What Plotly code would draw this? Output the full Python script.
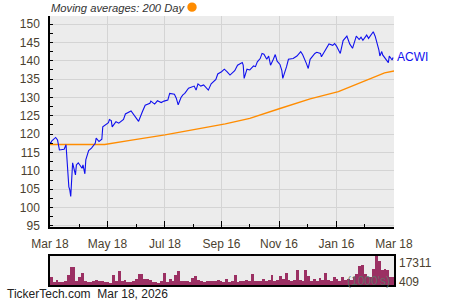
import plotly.graph_objects as go
import pandas as pd

price_dates = [
    "2025-03-18", "2025-03-19", "2025-03-20", "2025-03-24", "2025-03-26", "2025-03-28",
    "2025-04-02", "2025-04-04", "2025-04-07", "2025-04-08", "2025-04-09", "2025-04-11",
    "2025-04-14", "2025-04-15", "2025-04-17", "2025-04-21", "2025-04-22", "2025-04-24",
    "2025-04-25", "2025-04-28", "2025-05-01", "2025-05-05", "2025-05-06", "2025-05-09",
    "2025-05-12", "2025-05-13", "2025-05-19", "2025-05-20", "2025-05-22", "2025-05-23",
    "2025-05-27", "2025-05-30", "2025-06-04", "2025-06-06", "2025-06-12", "2025-06-16",
    "2025-06-20", "2025-06-24", "2025-06-27", "2025-07-02", "2025-07-03", "2025-07-07",
    "2025-07-10", "2025-07-14", "2025-07-17", "2025-07-21", "2025-07-23", "2025-07-28",
    "2025-07-30", "2025-08-01", "2025-08-04", "2025-08-06", "2025-08-08", "2025-08-12",
    "2025-08-15", "2025-08-18", "2025-08-20", "2025-08-22", "2025-08-25", "2025-08-28",
    "2025-09-02", "2025-09-05", "2025-09-10", "2025-09-12", "2025-09-16", "2025-09-19",
    "2025-09-22", "2025-09-25", "2025-09-30", "2025-10-03", "2025-10-08", "2025-10-09",
    "2025-10-10", "2025-10-13", "2025-10-16", "2025-10-20", "2025-10-22", "2025-10-24",
    "2025-10-27", "2025-10-29", "2025-10-31", "2025-11-03", "2025-11-05", "2025-11-06",
    "2025-11-07", "2025-11-10", "2025-11-12", "2025-11-14", "2025-11-17", "2025-11-19",
    "2025-11-20", "2025-11-24", "2025-11-26", "2025-12-01", "2025-12-05", "2025-12-09",
    "2025-12-11", "2025-12-15", "2025-12-17", "2025-12-19", "2025-12-24", "2025-12-26",
    "2025-12-30", "2025-12-31", "2026-01-05", "2026-01-08", "2026-01-12", "2026-01-14",
    "2026-01-16", "2026-01-20", "2026-01-22", "2026-01-23", "2026-01-27", "2026-01-29",
    "2026-01-30", "2026-02-02", "2026-02-04", "2026-02-06", "2026-02-09", "2026-02-11",
    "2026-02-13", "2026-02-17", "2026-02-19", "2026-02-23", "2026-02-24", "2026-02-26",
    "2026-02-27", "2026-03-02", "2026-03-03", "2026-03-05", "2026-03-06", "2026-03-09",
    "2026-03-12", "2026-03-13", "2026-03-16", "2026-03-17",
]
price_values = [
    117.7, 117.7, 118.2, 119.1, 118.4, 115.7,
    115.9, 117.1, 105.6, 104.8, 103.0, 112.2,
    108.9, 111.6, 112.2, 110.7, 111.6, 109.2,
    113.0, 115.5, 116.2, 117.5, 118.9, 118.0,
    118.6, 122.0, 123.1, 124.0, 123.7, 122.0,
    123.4, 123.0, 124.0, 125.5, 126.3, 124.8,
    123.5, 126.1, 127.9, 128.4, 129.0, 128.2,
    129.1, 128.6, 129.0, 129.3, 131.1, 130.9,
    129.8, 128.0, 130.0, 130.7, 131.1, 132.5,
    132.9, 133.1, 132.0, 133.7, 133.1, 133.4,
    132.0, 133.7, 134.9, 136.4, 137.0, 137.7,
    137.0, 136.1, 137.3, 138.8, 139.5, 138.8,
    135.2, 137.7, 137.5, 138.6, 138.4, 139.7,
    140.6, 142.0, 141.8, 140.4, 141.3, 139.7,
    138.8, 140.4, 141.7, 139.9, 139.0, 137.3,
    135.2, 138.4, 140.4, 140.6, 141.3, 142.5,
    141.7, 139.3, 137.9, 140.4, 142.0, 142.3,
    142.0, 141.1, 143.1, 144.6, 144.2, 144.7,
    144.0, 142.0, 144.3, 145.5, 146.7, 145.5,
    144.6, 143.4, 145.2, 146.7, 145.8, 146.4,
    145.6, 147.0, 146.1, 147.5, 147.9, 146.7,
    145.8, 142.9, 141.3, 142.5, 141.6, 140.4,
    139.5, 141.3, 140.2, 140.9,
]

ma_dates = [
    "2025-03-18", "2025-05-15", "2025-06-11", "2025-07-18", "2025-09-20", "2025-10-16",
    "2025-11-17", "2025-12-19", "2026-01-18", "2026-02-10", "2026-02-26", "2026-03-08",
    "2026-03-18",
]
ma_values = [117.2, 117.2, 118.3, 119.8, 122.8, 124.3, 127.0, 129.6, 131.6, 134.0, 135.8, 136.7, 137.2]

# volume in thousands, one bar per 3 days starting 2025-03-18
volume_values = [
    5000, 1600, 3000, 1600, 2000, 2200, 5700, 10800, 10800, 2200,
    4700, 7100, 2200, 1800, 2000, 2200, 3000, 2200, 2400, 1600,
    1800, 600, 5700, 2400, 8400, 2200, 3000, 1600, 2000, 2400,
    3700, 6300, 6300, 3400, 3700, 3000, 2000, 1600, 1400, 2400,
    7100, 2000, 3700, 2400, 5700, 8400, 2400, 2200, 2400, 2000,
    4000, 5100, 3000, 2200, 1600, 2400, 2200, 2200, 2400, 3000,
    2200, 2000, 3700, 1800, 2400, 5700, 2000, 2200, 2400, 3000,
    2200, 6300, 2600, 2200, 2400, 3700, 2400, 3000, 5700, 2400,
    3000, 5100, 3700, 7100, 3000, 2400, 3000, 9200, 3000, 2400,
    9200, 5100, 2600, 3700, 2400, 4200, 3000, 7100, 3000, 2600,
    4700, 3700, 2400, 4700, 3000, 3700, 3000, 4700, 6700, 11200,
    11800, 6700, 4700, 5000, 9800, 17311, 14500, 9200, 9800, 8800,
    4700, 4700,
]
volume_dates = pd.date_range("2025-03-18", periods=len(volume_values), freq="3D")

x_tick_vals = ["2025-03-18", "2025-05-18", "2025-07-18", "2025-09-16", "2025-11-16", "2026-01-16", "2026-03-18"]
x_tick_text = ["Mar 18", "May 18", "Jul 18", "Sep 16", "Nov 16", "Jan 16", "Mar 18"]
x_minor_vals = ["2025-04-18", "2025-06-18", "2025-08-17", "2025-10-16", "2025-12-16", "2026-02-15"]
y_tick_vals = [95, 100, 105, 110, 115, 120, 125, 130, 135, 140, 145, 150]
y_minor_vals = [97.5, 102.5, 107.5, 112.5, 117.5, 122.5, 127.5, 132.5, 137.5, 142.5, 147.5, 152.5]
vol_max_label = "17311"
vol_min_label = "409"
ticker = "ACWI"

W, H = 450, 300
def px(x):
    return x / W
def py(y):
    return 1 - y / H

label_color = "#4b3f2f"
font_family = "Liberation Sans, Arial, sans-serif"

fig = go.Figure()
fig.add_trace(go.Scatter(x=ma_dates, y=ma_values, mode="lines",
                         line=dict(color="#ff8c00", width=1.4), xaxis="x", yaxis="y",
                         hoverinfo="skip"))
fig.add_trace(go.Scatter(x=price_dates, y=price_values, mode="lines",
                         line=dict(color="#1010ee", width=1.1), xaxis="x", yaxis="y",
                         hoverinfo="skip"))
fig.add_trace(go.Bar(x=volume_dates, y=volume_values, xaxis="x2", yaxis="y2",
                     marker=dict(color="#9b3063", line=dict(width=0)),
                     width=3 * 86400000, offset=0, hoverinfo="skip"))

xdom = [px(50), px(394)]
fig.update_layout(
    width=W, height=H,
    margin=dict(l=0, r=0, t=0, b=0, autoexpand=False),
    paper_bgcolor="white",
    plot_bgcolor="#ececec",
    showlegend=False,
    bargap=0,
    font=dict(family=font_family, size=12, color=label_color),
    xaxis=dict(
        domain=xdom, anchor="y", type="date", automargin=False,
        range=["2025-03-18", "2026-03-18"],
        tickmode="array", tickvals=x_tick_vals, ticktext=x_tick_text,
        ticks="inside", ticklen=6, tickwidth=1, tickcolor="black",
        showline=True, linecolor="black", linewidth=2,
        showgrid=True, gridcolor="#d4d4d4", gridwidth=1,
        minor=dict(tickvals=x_minor_vals, ticks="inside", ticklen=3, tickcolor="black", showgrid=False),
        ticklabelstandoff=5,
        tickfont=dict(size=12, color=label_color),
        zeroline=False,
    ),
    yaxis=dict(
        domain=[py(227), py(16)], anchor="x", automargin=False,
        range=[94.7, 152.2],
        tickmode="array", tickvals=y_tick_vals,
        ticks="inside", ticklen=3, tickwidth=1, tickcolor="black",
        showline=True, linecolor="black", linewidth=1.5,
        showgrid=True, gridcolor="#d4d4d4", gridwidth=1,
        minor=dict(tickvals=y_minor_vals, ticks="inside", ticklen=3, tickcolor="black", showgrid=False),
        ticklabelstandoff=6,
        tickfont=dict(size=12, color=label_color),
        zeroline=False,
    ),
    xaxis2=dict(
        domain=xdom, anchor="y2", type="date", automargin=False,
        range=["2025-03-18", "2026-03-18"],
        showticklabels=False, ticks="", showgrid=False,
        showline=True, mirror=True, linecolor="black", linewidth=2, zeroline=False,
    ),
    yaxis2=dict(
        domain=[py(285), py(256)], anchor="x2", automargin=False,
        range=[0, 17311],
        showticklabels=False, ticks="", showgrid=False,
        showline=True, mirror=True, linecolor="black", linewidth=2, zeroline=False,
    ),
)

annotations = [
    dict(x=px(49), y=py(7.5), xref="paper", yref="paper", xanchor="left", yanchor="middle",
         text="<i>Moving averages: 200 Day</i>", showarrow=False,
         font=dict(size=11.2, color="#333333")),
    dict(x=price_dates[-1], y=price_values[-1], xref="x", yref="y", xanchor="left", yanchor="middle",
         xshift=2, text=ticker, showarrow=False, font=dict(size=12, color="#1010ee")),
    dict(x=px(397), y=py(262.5), xref="paper", yref="paper", xanchor="left", yanchor="middle",
         text=vol_max_label, showarrow=False, font=dict(size=12, color=label_color)),
    dict(x=px(397), y=py(281.5), xref="paper", yref="paper", xanchor="left", yanchor="middle",
         text=vol_min_label, showarrow=False, font=dict(size=12, color=label_color)),
    dict(x=px(392), y=py(280.5), xref="paper", yref="paper", xanchor="right", yanchor="middle",
         text="(1000's)", showarrow=False, font=dict(size=12, color="rgba(90,120,105,0.85)")),
    dict(x=px(5), y=py(294), xref="paper", yref="paper", xanchor="left", yanchor="middle",
         text="TickerTech.com  Mar 18, 2026", showarrow=False,
         font=dict(size=12, color="#222222")),
]
fig.update_layout(annotations=annotations)
fig.add_shape(type="circle", xref="paper", yref="paper", layer="above",
              x0=px(187.3), x1=px(196.7), y0=py(11.8), y1=py(2.5),
              fillcolor="#ff8c00", line=dict(width=0))

fig.write_html("out.html")
